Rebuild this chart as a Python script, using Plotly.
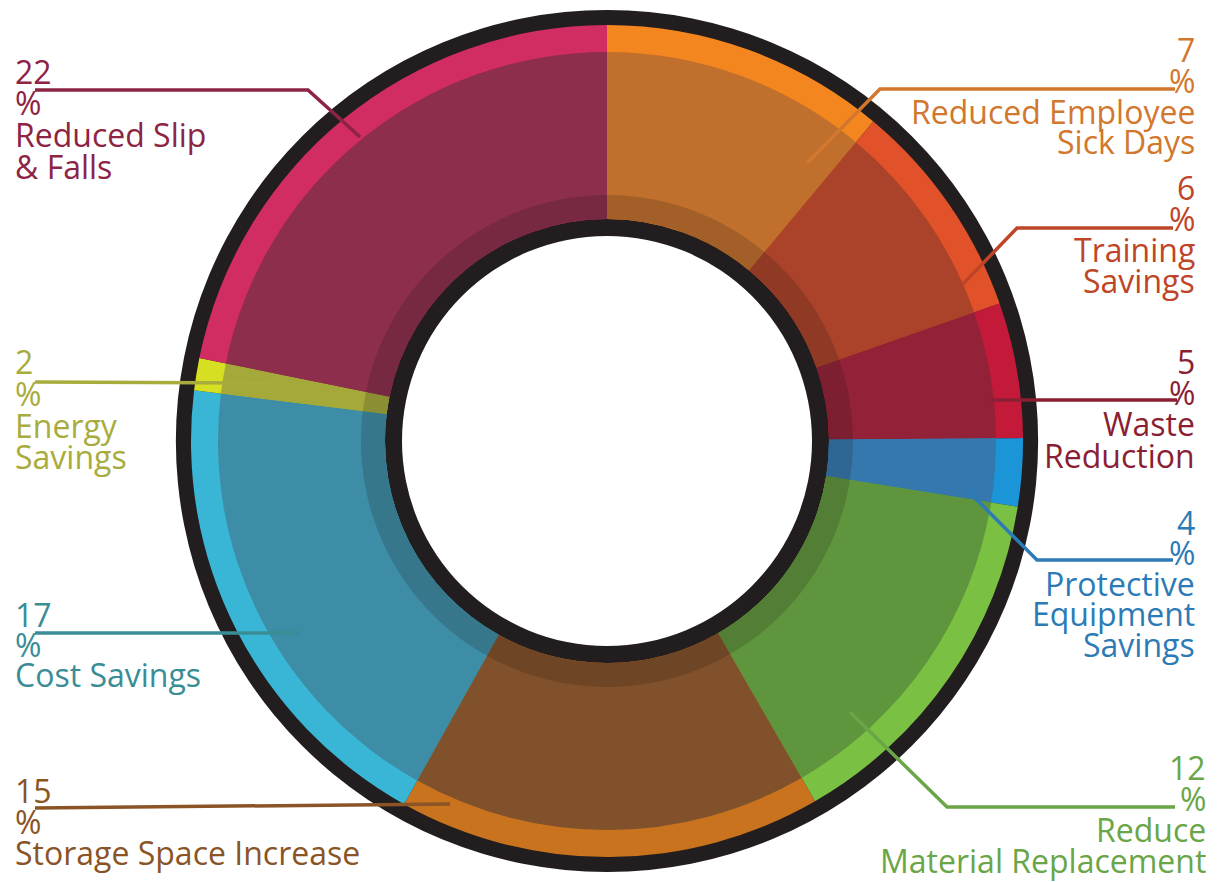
import plotly.graph_objects as go

W, H = 1219, 882

# ---- data ----
categories = ["Reduced Employee Sick Days", "Training Savings", "Waste Reduction",
              "Protective Equipment Savings", "Reduce Material Replacement",
              "Storage Space Increase", "Cost Savings", "Energy Savings",
              "Reduced Slip & Falls"]
percent_labels = [7, 6, 5, 4, 12, 15, 17, 2, 22]
# slice sizes as drawn in the picture (degrees of the ring)
slice_share = [39.8, 30.9, 18.9, 9.5, 50.9, 59.2, 67.8, 4.5, 78.5]
label_lines = [
    ["Reduced Employee", "Sick Days"],
    ["Training", "Savings"],
    ["Waste", "Reduction"],
    ["Protective", "Equipment", "Savings"],
    ["Reduce", "Material Replacement"],
    ["Storage Space Increase"],
    ["Cost Savings"],
    ["Energy", "Savings"],
    ["Reduced Slip", "& Falls"],
]

# ---- styles ----
rim_colors = ["#F4861F", "#E2522A", "#C41A3A", "#1B95D8", "#7AC143",
              "#C9731F", "#39B6D6", "#D7DF23", "#D12D62"]
body_colors = ["#C0702C", "#AA432A", "#932238", "#3578AE", "#5F953C",
               "#80512A", "#3C8DA5", "#A4A93A", "#8C2E4C"]
text_colors = ["#D2772E", "#BE4527", "#8A1F33", "#2C7BB6", "#6AA547",
               "#8A5426", "#3A8D96", "#A8AC3C", "#8E2444"]

CX, CY = 607, 441
R_OUT, R_RIM, R_BODY, R_SHADOW, R_RING, R_HOLE = 431, 416, 389, 246, 222, 205


def dom(r):
    return dict(x=[(CX - r) / W, (CX + r) / W], y=[1 - (CY + r) / H, 1 - (CY - r) / H])


def X(px):
    return px / W


def Y(py):
    return 1 - py / H


fig = go.Figure()

# black outer/inner frame
fig.add_trace(go.Pie(values=[1], labels=["frame"], domain=dom(R_OUT), hole=R_HOLE / R_OUT,
                     marker=dict(colors=["#221E1F"], line=dict(width=0)),
                     textinfo="none", hoverinfo="skip", sort=False, showlegend=False))
# bright rim
fig.add_trace(go.Pie(values=slice_share, labels=categories, domain=dom(R_RIM), hole=R_RING / R_RIM,
                     marker=dict(colors=rim_colors, line=dict(width=0)),
                     direction="clockwise", rotation=0, sort=False,
                     textinfo="none", hoverinfo="label", showlegend=False))
# darker body
fig.add_trace(go.Pie(values=slice_share, labels=categories, domain=dom(R_BODY), hole=R_RING / R_BODY,
                     marker=dict(colors=body_colors, line=dict(width=0)),
                     direction="clockwise", rotation=0, sort=False,
                     textinfo="none", hoverinfo="label", showlegend=False))
# inner shadow band
fig.add_trace(go.Pie(values=[1], labels=["shadow"], domain=dom(R_SHADOW), hole=R_RING / R_SHADOW,
                     marker=dict(colors=["rgba(30,20,20,0.18)"], line=dict(width=0)),
                     textinfo="none", hoverinfo="skip", sort=False, showlegend=False))

# label layout: (anchor x px, side, first line center y px, pitch)
label_pos = [
    (1197, "right", 50, 30.5),
    (1197, "right", 188, 31),
    (1197, "right", 362, 31),
    (1197, "right", 522, 30.5),
    (1208, "right", 767, 31),
    (13, "left", 790, 31),
    (13, "left", 614, 30),
    (13, "left", 362, 31.5),
    (13, "left", 71.5, 31.5),
]
leaders = [
    [(1175, 89), (880, 89), (807, 163)],
    [(1173, 228), (1017, 228), (962, 285)],
    [(1177, 400), (990, 400)],
    [(1173, 560), (1037, 560), (967, 490)],
    [(1175, 807), (947, 807), (850, 712)],
    [(35, 808), (450, 804)],
    [(35, 633), (300, 633)],
    [(35, 382), (270, 383)],
    [(35, 90), (308, 90), (360, 137)],
]

annotations = []
shapes = []
for i in range(len(categories)):
    ax, side, y0, pitch = label_pos[i]
    lines = [str(percent_labels[i]), "%"] + label_lines[i]
    for k, t in enumerate(lines):
        annotations.append(dict(
            x=X(ax), y=Y(y0 + k * pitch), xref="paper", yref="paper",
            text=t, showarrow=False, xanchor=side, yanchor="middle",
            font=dict(family="Open Sans", size=32, color=text_colors[i]),
        ))
    pts = leaders[i]
    path = "M " + " L ".join(f"{X(p[0])},{Y(p[1])}" for p in pts)
    shapes.append(dict(type="path", path=path, xref="paper", yref="paper",
                       line=dict(color=text_colors[i], width=3.5)))

fig.update_layout(
    width=W, height=H,
    margin=dict(l=0, r=0, t=0, b=0),
    paper_bgcolor="white", plot_bgcolor="white",
    annotations=annotations, shapes=shapes,
    showlegend=False,
)

fig.write_html("out.html", config={"displayModeBar": False},
               post_script="document.body.style.margin='0';document.body.style.overflow='hidden';")
